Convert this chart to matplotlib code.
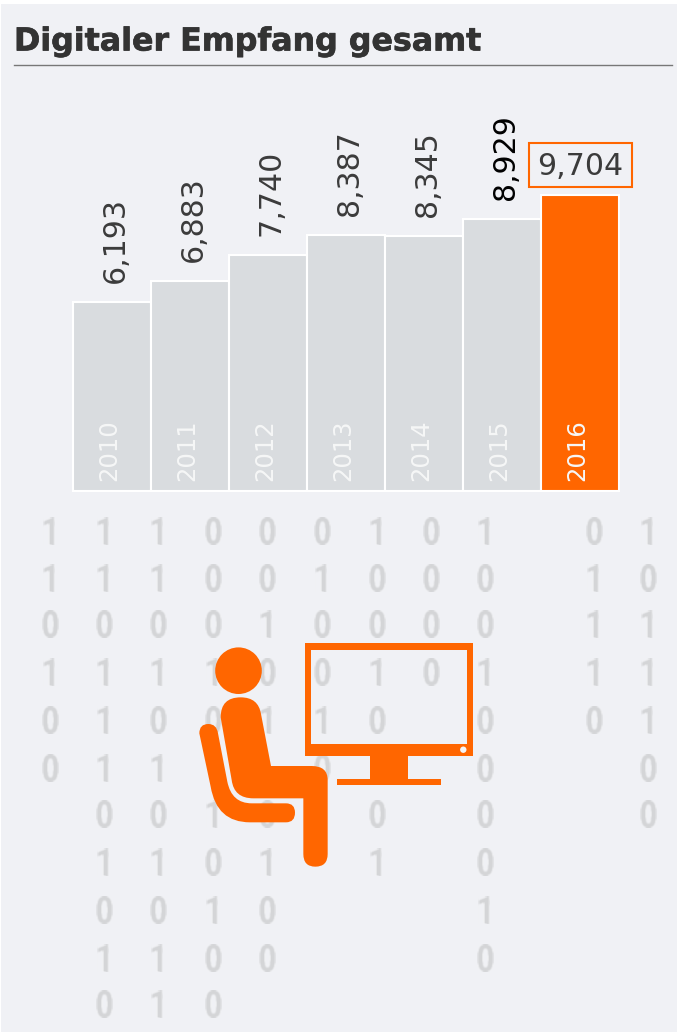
import numpy as np
import matplotlib
matplotlib.use('Agg')
import matplotlib.pyplot as plt
import matplotlib.patheffects as pe
from matplotlib.patches import Rectangle, Circle, PathPatch
from matplotlib.path import Path
from matplotlib.font_manager import FontProperties

years = ['2010', '2011', '2012', '2013', '2014', '2015', '2016']
values = [6193, 6883, 7740, 8387, 8345, 8929, 9704]
value_labels = ['6,193', '6,883', '7,740', '8,387', '8,345', '8,929', '9,704']
title = 'Digitaler Empfang gesamt'

# background digits, one string per column, '.' = nothing there
digit_cols = {
    50: '110100.....',
    104: '11011101010',
    158: '11010101011',
    213: '00010.10100',
    267: '00101.0100.',
    322: '010010.....',
    377: '10010.01...',
    431: '0000.......',
    485: '1001000010.',
    594: '01110......',
    648: '1011100....',
}
digit_rows = [530.5, 577, 624, 672, 719, 767, 814, 862, 909, 957, 1004]

GREY = '#d9dcdf'
ORANGE = '#ff6600'
BG = '#f0f1f5'
TXT = '#3b3b3b'


def blur(img, dpi):
    # small box blur, the digits are soft in the original
    out = img.copy()
    for ax_ in (0, 1):
        out = (np.roll(out, 1, axis=ax_) + out + np.roll(out, -1, axis=ax_)) / 3.0
    return out, 0, 0


fig = plt.figure(figsize=(6.77, 10.32), dpi=100, facecolor='white')

# page layer in pixel coordinates
bg = fig.add_axes([0, 0, 1, 1])
bg.set_xlim(0, 677)
bg.set_ylim(1032, 0)
bg.axis('off')
bg.add_patch(Rectangle((1, 4), 676, 1028, fc=BG, ec='none', zorder=0))

bg.text(14, 50.5, title, fontsize=22.8, fontweight='bold', color='#333333', family='DejaVu Sans',
        path_effects=[pe.withStroke(linewidth=0.5, foreground='#333333')])
bg.plot([14, 672], [64.5, 64.5], color='#777777', lw=1)

digit_font = FontProperties(family='Roboto Condensed', weight='bold', size=27)
for x, col in digit_cols.items():
    for y, d in zip(digit_rows, col):
        if d == '.':
            continue
        t = bg.text(x, y, d, ha='center', va='center_baseline', color='#d4d5d7',
                    fontproperties=digit_font, zorder=0.5)
        t.set_agg_filter(blur)

# monitor, the screen is a hole so digits show through
M, L, C, Z = Path.MOVETO, Path.LINETO, Path.CURVE3, Path.CLOSEPOLY
screen = Path([(305, 643), (473, 643), (473, 756), (305, 756), (305, 643),
               (311, 649.5), (311, 743.5), (466.7, 743.5), (466.7, 649.5), (311, 649.5)],
              [M, L, L, L, Z, M, L, L, L, Z])
bg.add_patch(PathPatch(screen, fc=ORANGE, ec='none'))
bg.add_patch(Rectangle((369.7, 756), 38.3, 23, fc=ORANGE, ec='none'))
bg.add_patch(Rectangle((337, 779), 103.7, 6.3, fc=ORANGE, ec='none'))
bg.add_patch(Circle((463.3, 749.7), 3.2, fc='#f4f4f6', ec='none'))

# person
bg.add_patch(Circle((238.5, 670.7), 23.3, fc=ORANGE, ec='none'))


def zp(x, y):
    return (190 + x / 3, 630 + y / 3)


body = [(M, 152, 202), (C, 92, 202), (C, 92, 262), (L, 125, 450), (C, 132, 505), (C, 190, 505),
        (L, 340, 505), (L, 340, 672), (C, 340, 710), (C, 376, 710), (C, 413, 710), (C, 413, 672),
        (L, 413, 450), (C, 413, 408), (C, 365, 408), (L, 243, 408), (L, 213, 252), (C, 205, 202),
        (C, 152, 202), (Z, 152, 202)]
chair = [(M, 28, 310), (C, 28, 282), (C, 55, 282), (C, 80, 282), (C, 84, 310), (L, 112, 455),
         (C, 125, 520), (C, 185, 520), (L, 288, 520), (C, 315, 520), (C, 315, 548), (C, 315, 577),
         (C, 288, 577), (L, 180, 577), (C, 80, 577), (C, 62, 470), (L, 28, 310), (Z, 28, 310)]
for shape in (body, chair):
    codes = [s[0] for s in shape]
    verts = [zp(s[1], s[2]) for s in shape]
    bg.add_patch(PathPatch(Path(verts, codes), fc=ORANGE, ec='none'))

# bars
ax = fig.add_axes([73 / 677, (1032 - 491) / 1032, 546 / 677, 330 / 1032])
ax.patch.set_alpha(0)
ax.axis('off')
ax.set_xlim(-0.5, 6.5)
ax.set_ylim(0, 330 / 0.0305)

x_pos = list(range(len(years)))
colors = [GREY] * 6 + [ORANGE]
ax.bar(x_pos, values, width=1, color=colors, edgecolor='white', linewidth=1.5, clip_on=False)

px = 0.72  # points per pixel at dpi 100
for i, (v, lab, yr) in enumerate(zip(values, value_labels, years)):
    ax.annotate(yr, (i, 0), xytext=(-2.5 * px, 10 * px), textcoords='offset points', rotation=90,
                ha='center', va='bottom', fontsize=17.5, color='#f6f7f7')
    if i < 6:
        ax.annotate(lab, (i, v), xytext=(3 * px, 19 * px), textcoords='offset points', rotation=90,
                    ha='center', va='bottom', fontsize=21.6, color='black' if i == 5 else TXT)

ax.annotate(value_labels[6], (6, values[6]), xytext=(0, 29 * px), textcoords='offset points',
            ha='center', va='center', fontsize=21.6, color=TXT)
bg.add_patch(Rectangle((529, 143), 103, 44, fc='none', ec=ORANGE, lw=1.5))

fig.savefig('out.png', dpi=100)
